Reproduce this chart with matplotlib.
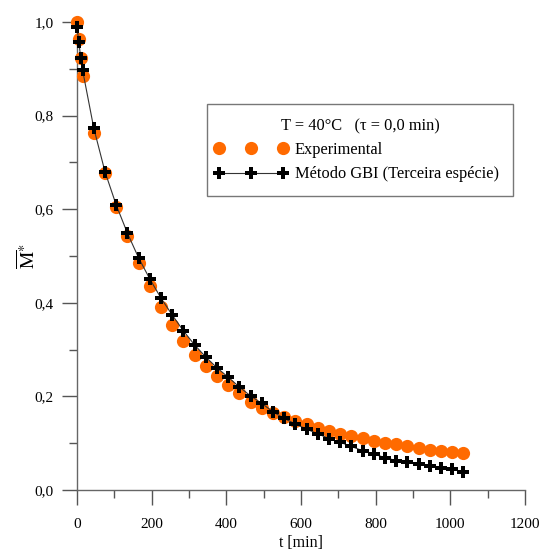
import matplotlib
matplotlib.use('Agg')
import matplotlib.pyplot as plt
from matplotlib.ticker import MultipleLocator, FuncFormatter
from matplotlib.legend_handler import HandlerLine2D

plt.rcParams['font.family'] = ['Liberation Serif', 'DejaVu Serif']
plt.rcParams['mathtext.fontset'] = 'stix'

# tempo [min]
t = [0, 5, 10, 15, 45, 75, 105, 135, 165, 195, 225, 255, 285, 315, 345,
     375, 405, 435, 465, 495, 525, 555, 585, 615, 645, 675, 705, 735, 765,
     795, 825, 855, 885, 915, 945, 975, 1005, 1035]

m_exp = [1.000, 0.964, 0.923, 0.885, 0.763, 0.678, 0.605, 0.543, 0.485,
         0.436, 0.391, 0.353, 0.318, 0.288, 0.264, 0.244, 0.224, 0.207,
         0.189, 0.175, 0.164, 0.156, 0.147, 0.140, 0.132, 0.126, 0.120,
         0.116, 0.111, 0.105, 0.100, 0.098, 0.093, 0.090, 0.086, 0.083,
         0.081, 0.078]

m_gbi = [0.989, 0.957, 0.923, 0.897, 0.773, 0.680, 0.609, 0.549, 0.496,
         0.451, 0.410, 0.374, 0.340, 0.310, 0.284, 0.261, 0.241, 0.220,
         0.201, 0.185, 0.167, 0.153, 0.141, 0.130, 0.120, 0.110, 0.102,
         0.093, 0.084, 0.077, 0.069, 0.063, 0.059, 0.055, 0.051, 0.047,
         0.044, 0.039]

fig = plt.figure(figsize=(5.4, 5.51), dpi=100)
ax = fig.add_axes([77/540, 61/551, 448/540, 468/551])

ax.plot(t, m_exp, 'o', color='#ff6a00', markersize=9.5, markeredgewidth=0,
        label='Experimental', clip_on=False, zorder=3)
ax.plot(t, m_gbi, '-', color='#333333', linewidth=0.8, marker='P',
        markersize=9, markerfacecolor='black', markeredgecolor='black',
        markeredgewidth=0, label='Método GBI (Terceira espécie)',
        clip_on=False, zorder=4)

ax.set_xlim(0, 1200)
ax.set_ylim(0, 1.0)
ax.xaxis.set_major_locator(MultipleLocator(200))
ax.xaxis.set_minor_locator(MultipleLocator(100))
ax.yaxis.set_major_locator(MultipleLocator(0.2))
ax.yaxis.set_minor_locator(MultipleLocator(0.1))
ax.yaxis.set_major_formatter(FuncFormatter(lambda v, p: f'{v:.1f}'.replace('.', ',')))

for s in ['top', 'right']:
    ax.spines[s].set_visible(False)
for s in ['left', 'bottom']:
    ax.spines[s].set_color('#666666')
    ax.spines[s].set_linewidth(1.0)

ax.tick_params(which='major', direction='out', length=11, width=1.0,
               color='#555555', labelsize=11)
ax.tick_params(which='minor', direction='out', length=6, width=1.0,
               color='#555555')
ax.tick_params(axis='x', which='major', pad=9)
ax.tick_params(axis='y', which='major', pad=6)

ax.set_xlabel('t [min]', fontsize=11.5, labelpad=3)
ax.set_ylabel(r'$\overline{\mathrm{M}}^{\ast}$', fontsize=14, labelpad=-3)

hmap = {}
for ln in ax.get_lines():
    hmap[ln] = HandlerLine2D(marker_pad=-0.13)

leg = ax.legend(loc='upper left', bbox_to_anchor=(207/540, 1 - 104/551),
                bbox_transform=fig.transFigure, borderaxespad=0,
                numpoints=3, handlelength=3.65, handletextpad=0.86,
                fontsize=11.8, title='T = 40°C   (τ = 0,0 min)',
                title_fontsize=11.8, fancybox=False, frameon=True,
                borderpad=0.85, labelspacing=0.5, handler_map=hmap)
leg.get_frame().set_edgecolor('#555555')
leg.get_frame().set_linewidth(1.0)

fig.savefig('out.png', dpi=100)
